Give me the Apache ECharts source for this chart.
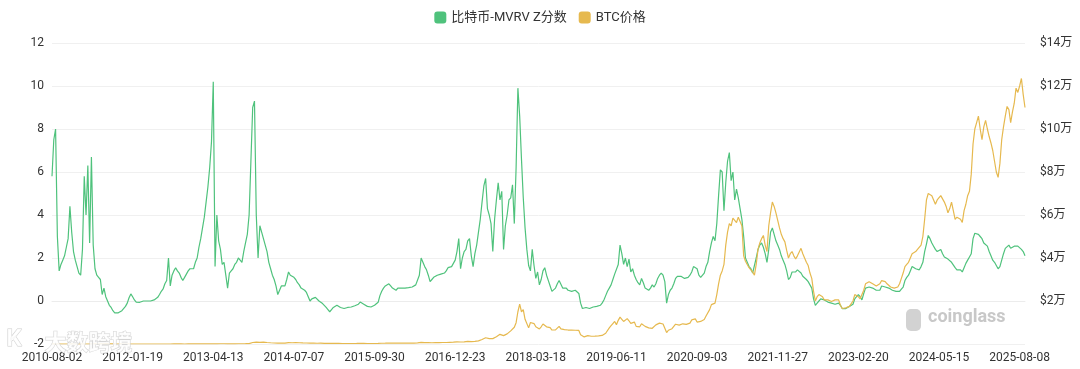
<!DOCTYPE html>
<html>
<head>
<meta charset="utf-8">
<script src="https://cdn.jsdelivr.net/npm/echarts@6/dist/echarts.min.js"></script>
<style>
html,body{margin:0;padding:0;background:#fff;}
#chart{width:1080px;height:369px;}
</style>
</head>
<body>
<div id="chart"></div>
<script>
// Tick labels on the x axis (every 45th sample)
const tickLabels = ['2010-08-02','2012-01-19','2013-04-13','2014-07-07','2015-09-30','2016-12-23','2018-03-18','2019-06-11','2020-09-03','2021-11-27','2023-02-20','2024-05-15','2025-08-08'];
const samplesPerTick = 45;
const tailSamples = 4;

// MVRV Z-score, one sample per ~10 days
const mvrvZ = [
5.8,7.5,8.0,3.0,1.4,1.7,1.9,2.1,2.5,2.9,
4.4,3.2,2.3,1.9,1.6,1.3,1.2,2.4,5.8,4.0,
6.3,2.7,6.7,2.6,1.5,1.2,1.1,1.0,0.3,0.6,
0.2,0.0,-0.2,-0.3,-0.45,-0.55,-0.6,-0.55,-0.5,-0.45,
-0.4,-0.25,-0.1,0.15,0.33,0.2,0.05,-0.05,-0.05,-0.06,
-0.05,0.0,0.0,0.0,0.02,0.0,0.0,0.05,0.1,0.17,
0.3,0.45,0.56,0.8,0.95,2.0,0.7,1.2,1.4,1.55,
1.4,1.3,1.1,0.95,1.1,1.25,1.4,1.5,1.5,1.5,
1.8,2.0,2.5,2.9,3.4,3.9,4.6,5.3,6.2,7.4,
10.2,1.6,4.0,2.8,2.4,1.7,1.8,1.2,0.6,1.3,
1.4,1.5,1.7,1.8,2.0,1.9,1.8,2.3,2.7,3.1,
4.0,6.5,9.0,9.3,4.0,2.0,3.5,3.2,2.9,2.6,
2.3,1.8,1.5,1.2,1.0,0.7,0.3,0.5,0.7,0.7,
0.7,1.0,1.35,1.2,1.2,1.1,1.0,0.85,0.75,0.6,
0.55,0.5,0.4,0.2,0.0,0.1,0.17,0.17,0.17,0.0,
-0.06,-0.12,-0.2,-0.3,-0.4,-0.5,-0.4,-0.3,-0.25,-0.2,
-0.25,-0.3,-0.37,-0.35,-0.32,-0.3,-0.3,-0.28,-0.25,-0.22,
-0.2,-0.15,-0.05,-0.05,-0.15,-0.2,-0.25,-0.3,-0.28,-0.25,
-0.2,-0.12,-0.06,0.25,0.45,0.6,0.7,0.75,0.8,0.7,
0.6,0.55,0.5,0.6,0.65,0.6,0.6,0.6,0.6,0.62,
0.65,0.65,0.7,0.75,0.8,1.2,2.0,1.8,1.6,1.45,
1.2,0.9,1.0,1.1,1.15,1.2,1.2,1.25,1.3,1.3,
1.4,1.55,1.6,1.6,1.65,1.9,2.3,2.9,1.5,2.0,
2.3,2.4,2.8,2.9,2.1,1.6,2.2,2.6,3.2,3.8,
4.6,5.35,5.7,4.3,4.0,3.6,2.3,3.8,4.7,5.5,
4.7,5.1,2.4,3.5,4.0,4.7,4.8,5.4,3.6,6.2,
9.9,8.6,6.6,4.8,3.4,2.4,1.65,1.4,2.4,1.65,
1.05,1.35,0.75,1.0,1.4,1.55,1.2,0.95,0.7,0.45,
0.5,0.6,0.8,0.95,0.9,0.6,0.6,0.6,0.5,0.45,
0.45,0.48,0.5,0.5,0.35,-0.1,-0.35,-0.4,-0.3,-0.25,
-0.35,-0.3,-0.28,-0.25,-0.25,-0.22,-0.2,-0.1,0.05,0.25,
0.45,0.6,0.75,1.0,1.25,1.3,1.7,2.6,2.2,1.7,
2.0,1.6,1.95,1.35,1.5,1.2,1.0,0.85,0.75,1.05,
0.85,0.6,0.55,0.5,0.6,0.75,0.65,0.8,1.05,1.2,
1.3,1.2,0.9,-0.1,0.3,0.5,0.6,0.8,1.05,1.15,
1.2,1.15,1.1,1.05,1.05,1.1,1.2,1.35,1.6,1.6,
1.5,1.2,1.1,1.15,1.3,1.6,1.8,2.3,2.7,3.0,
2.8,3.6,4.9,6.1,6.0,4.2,5.5,6.5,6.9,5.6,
6.0,4.7,5.2,4.8,4.3,3.8,3.0,2.0,1.8,1.6,
1.5,1.3,1.3,2.0,2.4,2.6,2.7,2.5,2.2,1.8,
2.4,3.2,3.4,3.1,2.8,2.6,2.4,2.1,1.9,1.7,
1.4,1.0,1.1,1.35,1.35,1.35,1.45,1.5,1.3,1.15,
1.1,1.0,0.9,0.75,0.6,0.1,-0.2,-0.1,0.0,0.1,
0.1,0.05,0.0,-0.05,-0.1,-0.1,-0.1,-0.15,-0.2,-0.1,
-0.2,-0.35,-0.35,-0.35,-0.3,-0.25,-0.2,-0.15,0.1,0.2,
0.3,0.2,0.05,0.35,0.6,0.65,0.65,0.6,0.6,0.55,
0.5,0.45,0.5,0.7,0.75,0.65,0.65,0.6,0.55,0.5,
0.45,0.45,0.45,0.45,0.55,0.65,0.95,1.1,1.2,1.4,
1.6,1.55,1.5,1.45,1.45,1.6,1.8,2.3,2.65,3.05,
2.9,2.7,2.55,2.4,2.3,2.25,2.4,2.2,2.05,2.0,
1.95,1.9,1.8,1.75,1.55,1.45,1.5,1.45,1.35,1.55,
1.75,1.9,2.05,2.2,2.9,3.15,3.2,3.1,3.0,2.9,
2.7,2.65,2.55,2.3,2.1,1.9,1.8,1.65,1.5,1.6,
1.9,2.2,2.45,2.5,2.6,2.45,2.4,2.55,2.6,2.55,
2.5,2.4,2.3,2.1
];

// BTC price in USD, same sampling
const btcPrice = [
0.07,0.07,0.06,0.06,0.06,0.06,0.06,0.08,0.1,0.1,
0.1,0.12,0.2,0.25,0.28,0.25,0.3,0.3,0.35,0.5,
0.8,0.9,0.9,0.85,0.8,0.85,1,2,5,7,
12,18,15,13,14,11,10,8,5,5,
4,3,3,3,4,6,6.5,5,5,5,
5,5,5,5,5,5,5,5.5,6,6,
6.5,7,8,10,11,12,11,11,12,12,
12,12,12,11,11,11,12,13,13,13.5,
13.5,18,22,27,30,45,65,75,100,140,
95,120,100,110,115,120,110,100,95,90,
90,95,100,110,115,125,125,130,135,150,
200,330,700,1150,900,650,750,900,850,700,
700,640,580,550,470,480,450,430,450,540,
450,600,620,570,590,630,620,590,580,520,
510,480,470,400,380,390,370,390,350,370,
370,350,330,320,290,230,250,240,270,280,
280,250,240,240,230,240,235,230,240,250,
245,270,290,280,270,250,230,230,240,235,
235,240,260,280,360,330,380,430,450,440,
450,400,380,410,430,420,420,420,430,430,
430,450,450,460,530,580,750,680,650,620,
650,590,580,590,610,610,600,640,690,690,
690,740,780,770,830,920,1000,900,920,1000,
1000,1150,1250,1230,1100,1100,1200,1300,1450,1750,
2100,2500,2900,2700,2500,2300,2500,2800,3400,4100,
4500,4300,3900,4200,4700,5600,6100,7000,7800,9900,
15000,18500,15000,16000,11500,11000,7500,10000,10300,9500,
8000,7800,7000,8000,9300,9400,8000,7300,7600,6500,
6100,6600,6700,8200,7000,6300,6700,7300,6500,6600,
6500,6300,6400,6400,6300,4300,3800,3300,4000,3900,
3600,3600,3450,3650,3950,3800,3900,4000,4900,5000,
5800,7500,8500,9500,10500,9000,11000,12500,11500,10500,
10000,11800,10800,9600,10300,10200,8200,8600,8000,9400,
8800,8200,7500,7500,7100,7300,8100,8900,8900,9700,
9900,9300,8900,5300,6400,7200,7100,7700,9200,9400,
8800,9700,9400,9200,9100,9200,9700,11200,11800,11700,
10200,10300,10500,10700,11400,13000,13800,16000,18300,19000,
19000,23000,28000,32000,34000,37000,46000,52000,56000,55000,
58500,58000,56500,59000,57000,55000,41000,38500,37000,35500,
34500,33500,32000,37000,44000,47000,49000,50500,46000,43000,
55000,61000,66000,64000,61000,57500,54000,51000,49000,47500,
43500,40000,42000,43000,41000,39500,41000,41500,44500,42000,
40000,38000,36500,33000,30500,24500,20000,22000,23000,23500,
22000,20500,20500,20500,20000,19800,20000,20500,20500,20500,
18000,16500,16500,16800,17000,17500,18000,20000,23000,22500,
22000,21000,20500,25000,28000,28500,29000,28500,28000,27500,
27000,26500,28000,29500,29000,29000,28000,27500,26500,26000,
26000,26000,26500,28000,30500,33000,36000,37000,38000,40000,
42000,42500,43000,44000,44500,46000,50000,58000,67000,70000,
70000,69000,67000,65000,67000,67500,69000,69000,66000,64000,
61000,63000,66000,62000,58000,59000,59500,58000,56500,62000,
65000,69000,71000,79000,93000,100000,103000,106000,100000,95000,
101000,104000,100000,96500,93500,90000,85000,80000,77500,84000,
95000,101000,106000,110500,109000,103000,108000,112000,119000,117000,
120000,123500,116000,110000
];

// Build the date categories: samplesPerTick dates between consecutive tick labels
function addDays(s, n) {
  const d = new Date(s + 'T00:00:00Z');
  d.setUTCDate(d.getUTCDate() + n);
  return d.toISOString().slice(0, 10);
}
function daysBetween(a, b) {
  return Math.round((new Date(b + 'T00:00:00Z') - new Date(a + 'T00:00:00Z')) / 86400000);
}
const categories = [];
for (let k = 0; k < tickLabels.length - 1; k++) {
  const span = daysBetween(tickLabels[k], tickLabels[k + 1]);
  for (let j = 0; j < samplesPerTick; j++) {
    categories.push(addDays(tickLabels[k], Math.round(j * span / samplesPerTick)));
  }
}
const last = tickLabels[tickLabels.length - 1];
for (let j = 0; j < tailSamples; j++) categories.push(addDays(last, j * 10));

const GREEN = '#4fc27c';
const GOLD = '#e6b94f';
const FONT = 'Roboto, "Noto Sans CJK SC", sans-serif';

const chart = echarts.init(document.getElementById('chart'), null, {renderer: 'canvas'});
chart.setOption({
  animation: false,
  backgroundColor: '#ffffff',
  legend: {
    top: 6,
    left: 'center',
    itemWidth: 12,
    itemHeight: 12,
    itemGap: 12,
    icon: 'roundRect',
    textStyle: {color: '#333', fontSize: 13, fontFamily: FONT},
    data: ['比特币-MVRV Z分数', 'BTC价格']
  },
  grid: {left: 52, right: 55, top: 43, bottom: 25, containLabel: false, outerBoundsMode: 'none'},
  xAxis: {
    type: 'category',
    data: categories,
    boundaryGap: false,
    axisLine: {show: true, lineStyle: {color: '#ececec'}},
    axisTick: {show: false},
    axisLabel: {
      interval: samplesPerTick - 1,
      color: '#333', fontSize: 12, fontFamily: FONT, margin: 8,
      hideOverlap: false
    },
    splitLine: {show: false}
  },
  yAxis: [
    {
      type: 'value', min: -2, max: 12, interval: 2,
      axisLine: {show: false}, axisTick: {show: false},
      axisLabel: {color: '#333', fontSize: 12, fontFamily: FONT, margin: 8},
      splitLine: {lineStyle: {color: '#f0f0f0'}}
    },
    {
      type: 'value', min: 0, max: 140000, interval: 20000, position: 'right',
      axisLine: {show: false}, axisTick: {show: false},
      axisLabel: {
        color: '#333', fontSize: 12, fontFamily: FONT, margin: 15,
        showMinLabel: false,
        formatter: v => '$' + (v / 10000) + '万'
      },
      splitLine: {show: false}
    }
  ],
  graphic: [
    {type: 'rect', left: 906, top: 309, shape: {width: 15, height: 22, r: 5}, style: {fill: '#d2d2d2'}, z: 1},
    {type: 'text', left: 928, top: 309, style: {text: 'coinglass', fill: '#c8c8c8', font: 'bold 18px ' + FONT}, z: 1},
    {type: 'text', left: 6, top: 328, style: {text: 'K', fill: 'rgba(255,255,255,0.85)', stroke: '#cfcfcf', lineWidth: 1, font: 'bold 24px ' + FONT}, z: 100},
    {type: 'text', left: 44, top: 330, style: {text: '大数跨境', fill: 'rgba(255,255,255,0.8)', stroke: '#d4d4d4', lineWidth: 1, font: 'bold 22px "Noto Sans CJK SC", sans-serif'}, z: 100}
  ],
  series: [
    {
      name: '比特币-MVRV Z分数', type: 'line', yAxisIndex: 0,
      data: mvrvZ, showSymbol: false, symbol: 'none',
      lineStyle: {color: GREEN, width: 1.2}, itemStyle: {color: GREEN}
    },
    {
      name: 'BTC价格', type: 'line', yAxisIndex: 1,
      data: btcPrice, showSymbol: false, symbol: 'none',
      lineStyle: {color: GOLD, width: 1.2}, itemStyle: {color: GOLD}
    }
  ]
});
</script>
</body>
</html>
